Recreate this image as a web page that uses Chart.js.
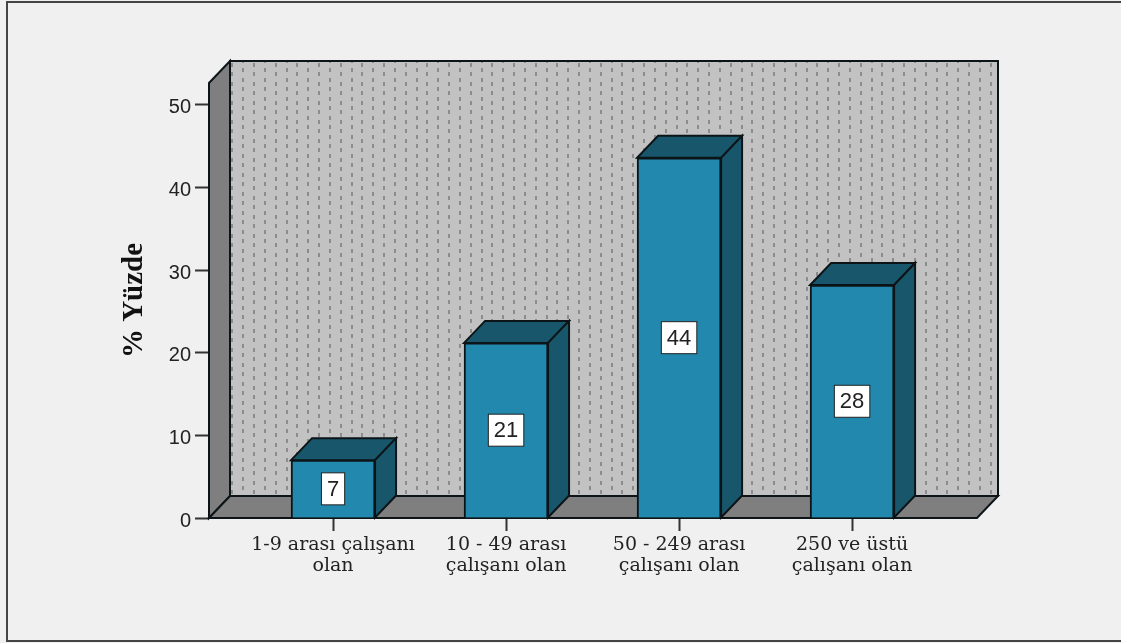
<!DOCTYPE html>
<html>
<head>
<meta charset="utf-8">
<title>Yüzde</title>
<script src="https://cdn.jsdelivr.net/npm/chart.js@4"></script>
<style>
html, body { margin: 0; padding: 0; background: #f0f0f0; overflow: hidden; }
canvas { display: block; }
</style>
</head>
<body>
<canvas id="chart" width="1121" height="643"></canvas>
<script>
const categories = [
    ['1-9 arası çalışanı', 'olan'],
    ['10 - 49 arası', 'çalışanı olan'],
    ['50 - 249 arası', 'çalışanı olan'],
    ['250 ve üstü', 'çalışanı olan']
];
const percentValues = [7, 21.2, 43.6, 28.2];
const categoryPositions = [0, 1, 2, 3];
const yTickValues = [0, 10, 20, 30, 40, 50];

const DEPTH_X = 21;
const DEPTH_Y = 22;
const FRONT = '#2288ad';
const SHADE = '#17566b';
const EDGE = '#0d1417';

function polygon(ctx, points, fill) {
    ctx.beginPath();
    points.forEach((p, i) => (i === 0 ? ctx.moveTo(p[0], p[1]) : ctx.lineTo(p[0], p[1])));
    ctx.closePath();
    ctx.fillStyle = fill;
    ctx.fill();
    ctx.strokeStyle = EDGE;
    ctx.lineWidth = 2;
    ctx.lineJoin = 'miter';
    ctx.stroke();
}

function dotPattern(ctx) {
    // 6 columns of dots per tile, staggered, spacing about 10.8 x 9.5
    const tile = document.createElement('canvas');
    tile.width = 65;
    tile.height = 19;
    const t = tile.getContext('2d');
    t.fillStyle = '#c2c2c2';
    t.fillRect(0, 0, 65, 19);
    t.fillStyle = '#8c8c8c';
    for (let c = 0; c < 6; c += 1) {
        const x = Math.round(c * 10.83) + 4;
        const shift = c % 2 === 0 ? 0 : 4;
        t.fillRect(x, 2 + shift, 2, 4);
        t.fillRect(x, 11 + shift, 2, 4);
    }
    return ctx.createPattern(tile, 'repeat');
}

const box3d = {
    id: 'box3d',
    beforeDraw(chart) {
        const ctx = chart.ctx;
        ctx.save();
        ctx.fillStyle = '#f0f0f0';
        ctx.fillRect(0, 0, chart.width, chart.height);
        ctx.strokeStyle = '#444444';
        ctx.lineWidth = 2;
        ctx.strokeRect(7, 2, chart.width + 20, 639);
        ctx.restore();
    },
    beforeDatasetsDraw(chart) {
        const ctx = chart.ctx;
        const { left, right, top, bottom } = chart.chartArea;
        ctx.save();
        polygon(ctx, [
            [left + DEPTH_X, top - DEPTH_Y], [right + DEPTH_X, top - DEPTH_Y],
            [right + DEPTH_X, bottom - DEPTH_Y], [left + DEPTH_X, bottom - DEPTH_Y]
        ], dotPattern(ctx));
        polygon(ctx, [
            [left, bottom], [left, top],
            [left + DEPTH_X, top - DEPTH_Y], [left + DEPTH_X, bottom - DEPTH_Y]
        ], '#7f7f7f');
        polygon(ctx, [
            [left, bottom], [right, bottom],
            [right + DEPTH_X, bottom - DEPTH_Y], [left + DEPTH_X, bottom - DEPTH_Y]
        ], '#7f7f7f');
        chart.getDatasetMeta(0).data.forEach((bar) => {
            const l = bar.x - bar.width / 2;
            const r = bar.x + bar.width / 2;
            polygon(ctx, [
                [l, bar.y], [r, bar.y],
                [r + DEPTH_X, bar.y - DEPTH_Y], [l + DEPTH_X, bar.y - DEPTH_Y]
            ], SHADE);
            polygon(ctx, [
                [r, bar.y], [r, bar.base],
                [r + DEPTH_X, bar.base - DEPTH_Y], [r + DEPTH_X, bar.y - DEPTH_Y]
            ], SHADE);
        });
        ctx.restore();
    },
    afterDatasetsDraw(chart) {
        const ctx = chart.ctx;
        ctx.save();
        ctx.font = '22px "Liberation Sans", Arial, sans-serif';
        ctx.textAlign = 'center';
        ctx.textBaseline = 'middle';
        chart.getDatasetMeta(0).data.forEach((bar, i) => {
            const text = String(Math.round(percentValues[i]));
            const boxW = ctx.measureText(text).width + 11;
            const cy = (bar.y + bar.base) / 2;
            ctx.fillStyle = '#ffffff';
            ctx.fillRect(bar.x - boxW / 2, cy - 16, boxW, 32);
            ctx.strokeStyle = '#222222';
            ctx.lineWidth = 1;
            ctx.strokeRect(bar.x - boxW / 2, cy - 16, boxW, 32);
            ctx.fillStyle = '#222222';
            ctx.fillText(text, bar.x, cy + 1);
        });
        ctx.restore();
    }
};

new Chart(document.getElementById('chart'), {
    type: 'bar',
    data: {
        datasets: [{
            data: categoryPositions.map((x, i) => ({ x: x, y: percentValues[i] })),
            backgroundColor: FRONT,
            borderColor: EDGE,
            borderWidth: 2,
            barThickness: 84
        }]
    },
    options: {
        responsive: false,
        animation: false,
        layout: { padding: { left: 117, right: 144, top: 83, bottom: 0 } },
        plugins: { legend: { display: false }, tooltip: { enabled: false } },
        scales: {
            x: {
                type: 'linear',
                offset: false,
                min: -0.717,
                max: 3.722,
                afterBuildTicks(axis) {
                    axis.ticks = categoryPositions.map((v) => ({ value: v }));
                },
                afterFit(axis) {
                    axis.height = 125;
                },
                grid: {
                    offset: false,
                    drawOnChartArea: false,
                    tickLength: 13,
                    tickWidth: 2,
                    tickColor: '#333333'
                },
                border: { display: false },
                ticks: {
                    autoSkip: false,
                    maxRotation: 0,
                    padding: 3,
                    color: '#222222',
                    font: { family: '"DejaVu Serif", serif', size: 19, lineHeight: 1.12 },
                    callback: (value) => categories[value]
                }
            },
            y: {
                min: 0,
                max: 52.66,
                afterBuildTicks(axis) {
                    axis.ticks = yTickValues.map((v) => ({ value: v }));
                },
                afterFit(axis) {
                    axis.width = 92;
                },
                grid: {
                    drawOnChartArea: false,
                    tickLength: 14,
                    tickWidth: 2,
                    tickColor: '#333333'
                },
                border: { display: false },
                ticks: {
                    padding: 4,
                    labelOffset: 3,
                    color: '#222222',
                    font: { family: '"Liberation Sans", Arial, sans-serif', size: 20 }
                },
                title: {
                    display: true,
                    text: '% Yüzde',
                    color: '#111111',
                    padding: 0,
                    font: { family: '"Liberation Serif", serif', size: 29, weight: 'bold' }
                }
            }
        }
    },
    plugins: [box3d]
});
</script>
</body>
</html>
